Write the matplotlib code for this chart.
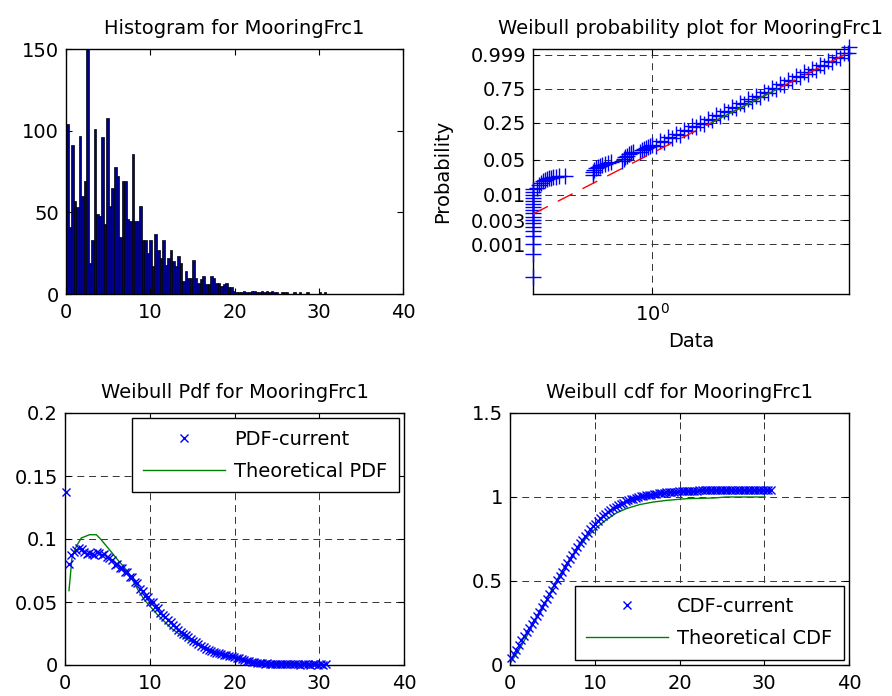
import numpy as np
import matplotlib
matplotlib.use("Agg")
import matplotlib.pyplot as plt
from matplotlib.ticker import NullLocator, FixedLocator

plt.rcParams['font.family'] = ['DejaVu Sans']
plt.rcParams['font.size'] = 14
plt.rcParams['lines.scale_dashes'] = False

# ---- histogram of MooringFrc1 (bin width 0.3, starting at 0) ----
bin_width = 0.3
hist_counts = [104, 41, 91, 57, 53, 97, 60, 69, 150, 19,
               33, 101, 49, 48, 96, 43, 108, 54, 65, 78,
               72, 35, 69, 69, 46, 45, 86, 45, 45, 54,
               33, 33, 25, 33, 17, 37, 27, 22, 33, 18,
               22, 27, 20, 17, 23, 19, 8, 14, 10, 10,
               21, 10, 7, 9, 11, 6, 6, 11, 10, 7,
               7, 5, 6, 7, 4, 4, 2, 1, 1, 1,
               2, 1, 1, 2, 2, 1, 1, 2, 1, 2,
               1, 2, 1, 1, 0, 1, 1, 1, 0, 0,
               1, 0, 1, 0, 0, 1, 0, 0, 0, 0,
               1, 0, 1]
bin_centers = bin_width / 2 + bin_width * np.arange(len(hist_counts))

# ---- empirical pdf / cdf evaluated at the bin centres ----
pdf_current = [0.137, 0.080, 0.087, 0.090, 0.091, 0.093, 0.092, 0.090, 0.088, 0.089,
               0.088, 0.087, 0.090, 0.089, 0.087, 0.088, 0.086, 0.085, 0.083, 0.079,
               0.080, 0.077, 0.077, 0.074, 0.074, 0.070, 0.070, 0.066, 0.065, 0.060,
               0.059, 0.055, 0.054, 0.050, 0.050, 0.046, 0.045, 0.041, 0.040, 0.038,
               0.036, 0.034, 0.032, 0.030, 0.028, 0.026, 0.025, 0.024, 0.022, 0.021,
               0.019, 0.018, 0.017, 0.015, 0.014, 0.013, 0.012, 0.011, 0.0105, 0.0098,
               0.0092, 0.0088, 0.0082, 0.0078, 0.0072, 0.0068, 0.0064, 0.0058, 0.0052, 0.0046,
               0.0040, 0.0035, 0.0030, 0.0026, 0.0022, 0.0019, 0.0016, 0.0013, 0.0011, 0.0012,
               0.0008, 0.0010, 0.0006, 0.0009, 0.0005, 0.0008, 0.0004, 0.0007, 0.0005, 0.0006,
               0.0004, 0.0006, 0.0003, 0.0005, 0.0004, 0.0005, 0.0003, 0.0004, 0.0005, 0.0003,
               0.0004, 0.0003, 0.0004]

cdf_current = [0.040, 0.064, 0.089, 0.118, 0.146, 0.172, 0.196, 0.220, 0.244, 0.268,
               0.293, 0.318, 0.343, 0.368, 0.394, 0.421, 0.449, 0.477, 0.504, 0.530,
               0.556, 0.581, 0.606, 0.630, 0.654, 0.678, 0.701, 0.724, 0.746, 0.767,
               0.788, 0.807, 0.825, 0.842, 0.858, 0.873, 0.887, 0.900, 0.912, 0.923,
               0.933, 0.942, 0.951, 0.959, 0.967, 0.974, 0.980, 0.986, 0.991, 0.996,
               1.000, 1.003, 1.006, 1.009, 1.012, 1.014, 1.017, 1.019, 1.021, 1.023,
               1.025, 1.027, 1.028, 1.030, 1.031, 1.032, 1.033, 1.034, 1.035, 1.036,
               1.037, 1.037, 1.038, 1.038, 1.039, 1.039, 1.040, 1.040, 1.040, 1.041,
               1.041, 1.041, 1.041, 1.041, 1.041, 1.042, 1.042, 1.042, 1.042, 1.042,
               1.042, 1.042, 1.042, 1.043, 1.043, 1.043, 1.043, 1.043, 1.043, 1.043,
               1.043, 1.043, 1.043]

# ---- fitted weibull curves ----
theo_pdf_x = [0.47, 0.82, 1.33, 1.92, 2.9, 3.7, 4.27, 5.25, 6.2, 7.4, 8.6, 9.36,
              10.9, 12.5, 14.1, 16.0, 18.0, 20.0, 21.5, 22.7, 24.0, 26.0, 28.0, 30.0]
theo_pdf_y = [0.059, 0.085, 0.094, 0.1008, 0.1034, 0.1034, 0.0994, 0.0915, 0.0836,
              0.0743, 0.0598, 0.0518, 0.040, 0.0294, 0.0214, 0.0148, 0.010, 0.0063,
              0.0034, 0.0026, 0.0022, 0.0018, 0.0014, 0.0012]

theo_cdf_x = [0.0, 0.95, 1.93, 3.1, 4.3, 5.48, 6.66, 7.84, 9.02, 10.2, 11.4, 12.56,
              13.74, 15.3, 16.9, 18.5, 20.8, 24.0, 25.5, 30.1]
theo_cdf_y = [0.01, 0.079, 0.167, 0.276, 0.384, 0.502, 0.601, 0.679, 0.758, 0.817,
              0.866, 0.905, 0.931, 0.955, 0.970, 0.980, 0.990, 0.994, 1.0, 1.0]

# ---- weibull probability plot points ----
wbl_x = [0.304] * 18 + [
    0.3162, 0.3227, 0.3292, 0.3358, 0.3426, 0.3495, 0.3566, 0.3638, 0.3712, 0.3825, 0.3942, 0.4185,
    0.5540, 0.5540, 0.5596, 0.5707, 0.5825, 0.5943, 0.6065, 0.6248, 0.6439, 0.6634,
    0.7406, 0.7556, 0.7632, 0.7787, 0.7943, 0.8103, 0.8268,
    0.8867, 0.9047, 0.9231, 0.9417, 0.9608, 0.9802,
    1.000, 1.041, 1.083, 1.128, 1.174, 1.222, 1.272, 1.324, 1.378, 1.434,
    1.493, 1.554, 1.617, 1.683, 1.752, 1.824, 1.898, 1.976, 2.056, 2.141,
    2.228, 2.319, 2.414, 2.512, 2.615, 2.723, 2.834, 2.949, 3.069, 3.194,
    3.325, 3.461, 3.602, 3.749, 3.902, 4.062, 4.228, 4.401, 4.581, 4.768,
    4.963, 5.166, 5.377, 5.597, 5.825, 6.063, 6.310, 6.568, 6.836, 7.115,
    7.16]
wbl_p = [0.000215, 0.000628, 0.0010, 0.00145, 0.00184, 0.00221, 0.00267, 0.00307, 0.00353,
         0.00426, 0.0049, 0.00564, 0.00648, 0.00745, 0.00857, 0.00986, 0.01134, 0.01304,
         0.0136, 0.0156, 0.0171, 0.0188, 0.0197, 0.0206, 0.0216, 0.0216, 0.0226, 0.0226, 0.0236, 0.0237,
         0.0248, 0.0284, 0.0312, 0.0341, 0.0357, 0.0374, 0.0392, 0.0410, 0.0429, 0.0449,
         0.0470, 0.0515, 0.0564, 0.0590, 0.0646, 0.0676, 0.0707,
         0.0707, 0.0773, 0.0809, 0.0845, 0.0884, 0.0924,
         0.0981, 0.0932, 0.1154, 0.1097, 0.1355, 0.1289, 0.1589, 0.1512, 0.1858, 0.1769,
         0.2166, 0.2065, 0.2518, 0.2403, 0.2915, 0.2786, 0.3372, 0.3239, 0.3892, 0.3746,
         0.4463, 0.4304, 0.5078, 0.4907, 0.5726, 0.5547, 0.6382, 0.6193, 0.7028, 0.6842,
         0.7643, 0.7473, 0.8232, 0.8079, 0.8753, 0.8629, 0.9181, 0.9077, 0.9503, 0.9422,
         0.9722, 0.9669, 0.9864, 0.9832, 0.99420, 0.99240, 0.99786, 0.99712, 0.99937, 0.99948,
         0.99994]
wbl_shape = 2.383
wbl_scale = 3.063
prob_ticks = [0.001, 0.003, 0.01, 0.05, 0.25, 0.75, 0.999]
prob_labels = ['0.001', '0.003', '0.01', '0.05', '0.25', '0.75', '0.999']


def wbl_fwd(p):
    with np.errstate(all='ignore'):
        return np.log(-np.log1p(-np.asarray(p, dtype=float)))


def wbl_inv(w):
    return -np.expm1(-np.exp(np.asarray(w, dtype=float)))


def wbl_cdf(x):
    return 1 - np.exp(-(np.asarray(x) / wbl_scale) ** wbl_shape)


def wbl_quantile(p):
    return wbl_scale * (-np.log1p(-np.asarray(p))) ** (1 / wbl_shape)


grid_kw = dict(color='0.2', linestyle=(0, (5, 3.5)), linewidth=0.7)


def style_axes(ax):
    ax.tick_params(direction='in', top=True, right=True, length=4, width=0.8,
                   labelsize=14)
    ax.tick_params(axis='x', pad=6.5)
    ax.tick_params(axis='y', pad=5)
    for s in ax.spines.values():
        s.set_linewidth(1.0)


fig = plt.figure(figsize=(8.92, 6.96), dpi=100)
W, H = 892, 696
ax1 = fig.add_axes([66 / W, 1 - 294 / H, 337 / W, 245 / H])
ax2 = fig.add_axes([533 / W, 1 - 294 / H, 316 / W, 245 / H])
ax3 = fig.add_axes([65 / W, 1 - 665 / H, 339 / W, 252 / H])
ax4 = fig.add_axes([510 / W, 1 - 665 / H, 339 / W, 252 / H])

# histogram
ax1.bar(bin_centers, hist_counts, width=bin_width, color='#00008F',
        edgecolor='black', linewidth=0.5)
ax1.set_xlim(0, 40)
ax1.set_ylim(0, 150)
ax1.set_xticks([0, 10, 20, 30, 40])
ax1.set_yticks([0, 50, 100, 150])
ax1.set_title('Histogram for MooringFrc1', fontsize=14, pad=11)
style_axes(ax1)

# weibull probability plot
ax2.set_xscale('log')
ax2.set_yscale('function', functions=(wbl_fwd, wbl_inv))
ax2.set_axisbelow(True)
ax2.grid(True, which='major', **grid_kw)
ax2.plot(wbl_x, wbl_p, '+', color='blue', markersize=11, markeredgewidth=1.0,
         clip_on=False, zorder=3)
x_ref = np.array([min(wbl_x), max(wbl_x[:-1])])
ax2.plot(x_ref, wbl_cdf(x_ref), color='red', linestyle=(0, (12, 8)),
         linewidth=1.0, zorder=4)
x_mid = wbl_quantile([0.25, 0.75])
ax2.plot(x_mid, wbl_cdf(x_mid), color='#008000', linewidth=1.0, zorder=4)
ax2.set_xlim(0.304, 7.19)
ax2.set_ylim(wbl_inv(-9.24), wbl_inv(2.193))
ax2.xaxis.set_major_locator(FixedLocator([1.0]))
ax2.xaxis.set_minor_locator(NullLocator())
ax2.yaxis.set_minor_locator(NullLocator())
ax2.set_yticks(prob_ticks)
ax2.set_yticklabels(prob_labels)
ax2.set_xlabel('Data', fontsize=14, labelpad=5)
ax2.set_ylabel('Probability', fontsize=14, labelpad=13)
ax2.set_title('Weibull probability plot for MooringFrc1', fontsize=14, pad=11)
style_axes(ax2)

# pdf
ax3.set_axisbelow(True)
ax3.grid(True, **grid_kw)
ax3.plot(bin_centers, pdf_current, 'x', color='blue', markersize=6,
         markeredgewidth=1.0, clip_on=False, label='PDF-current', zorder=3)
ax3.plot(theo_pdf_x, theo_pdf_y, color='#008000', linewidth=1.0,
         label='Theoretical PDF', zorder=2.5)
ax3.set_xlim(0, 40)
ax3.set_ylim(0, 0.2)
ax3.set_xticks([0, 10, 20, 30, 40])
ax3.set_yticks([0, 0.05, 0.1, 0.15, 0.2])
ax3.set_yticklabels(['0', '0.05', '0.1', '0.15', '0.2'])
ax3.set_title('Weibull Pdf for MooringFrc1', fontsize=14, pad=11)
style_axes(ax3)

# cdf
ax4.set_axisbelow(True)
ax4.grid(True, **grid_kw)
ax4.plot(bin_centers, cdf_current, 'x', color='blue', markersize=6,
         markeredgewidth=1.0, clip_on=False, label='CDF-current', zorder=3)
ax4.plot(theo_cdf_x, theo_cdf_y, color='#008000', linewidth=1.0,
         label='Theoretical CDF', zorder=2.5)
ax4.set_xlim(0, 40)
ax4.set_ylim(0, 1.5)
ax4.set_xticks([0, 10, 20, 30, 40])
ax4.set_yticks([0, 0.5, 1, 1.5])
ax4.set_yticklabels(['0', '0.5', '1', '1.5'])
ax4.set_title('Weibull cdf for MooringFrc1', fontsize=14, pad=11)
style_axes(ax4)

legend_kw = dict(fontsize=14, numpoints=1, handlelength=4.2, handletextpad=0.45,
                 borderpad=0.6, labelspacing=0.65, fancybox=False,
                 framealpha=1, edgecolor='black', borderaxespad=0.28)
leg3 = ax3.legend(loc='upper right', **legend_kw)
leg4 = ax4.legend(loc='lower right', **legend_kw)
for leg in (leg3, leg4):
    leg.get_frame().set_linewidth(1.0)
    leg.set_zorder(10)

fig.savefig('out.png', dpi=100)
